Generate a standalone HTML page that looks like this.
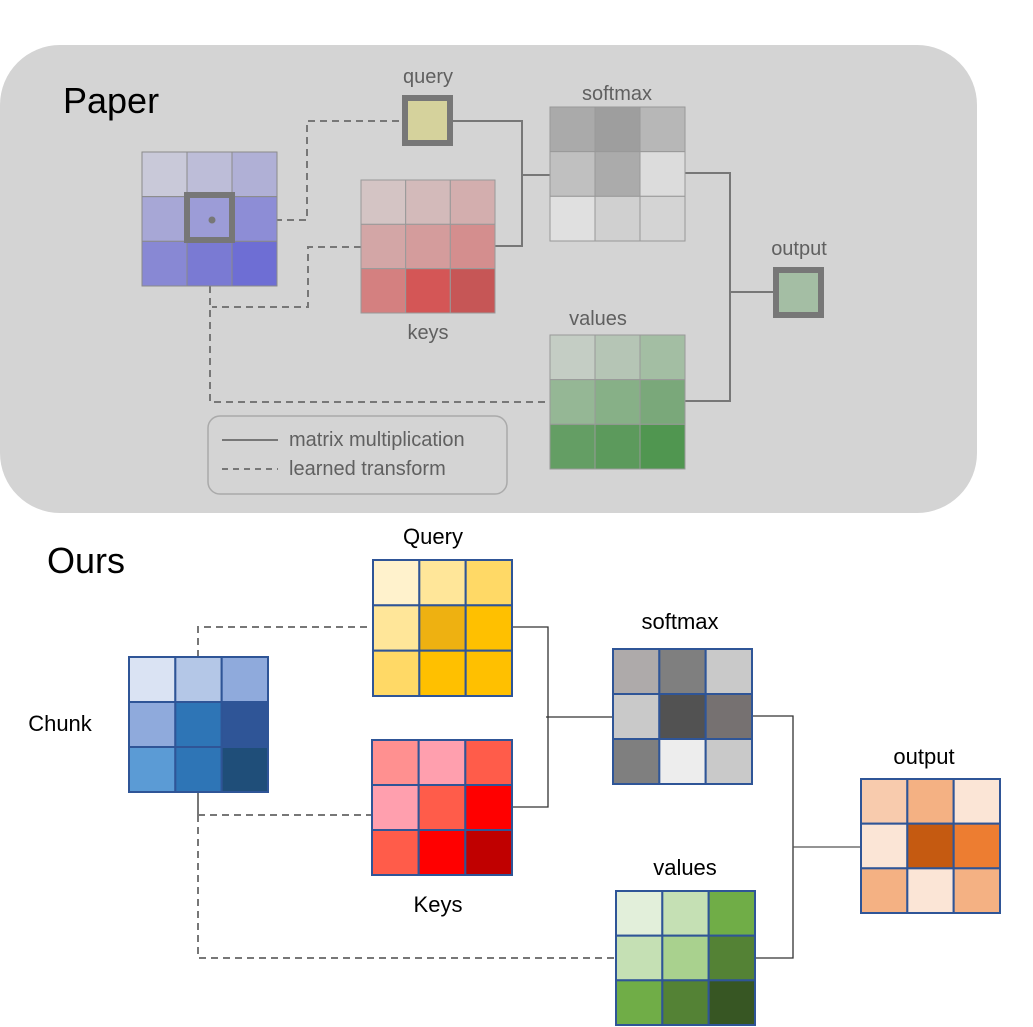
<!DOCTYPE html>
<html><head><meta charset="utf-8"><style>
html,body{margin:0;padding:0;background:#fff;}
svg{display:block;font-family:"Liberation Sans",sans-serif;}
</style></head><body>
<svg id="d" width="1033" height="1027" viewBox="0 0 1033 1027">
<rect x="0" y="45" width="977" height="468" rx="60" fill="#d4d4d4"/>
<text x="63" y="113" font-size="36" fill="#000">Paper</text>
<text x="47" y="573" font-size="36" fill="#000">Ours</text>
<g id="lines"></g>
<g id="grids"></g>
<!-- paper small boxes -->
<rect x="405" y="98" width="45" height="45" fill="#d5d29c" stroke="#777" stroke-width="6"/>
<rect x="776" y="270" width="45" height="45" fill="#a4bea4" stroke="#777" stroke-width="6"/>
<rect x="187" y="195" width="45" height="45" fill="none" stroke="#777" stroke-width="6"/>
<circle cx="212" cy="220" r="3.5" fill="#777"/>
<g fill="#606060" font-size="20" text-anchor="middle">
<text x="428" y="83">query</text>
<text x="617" y="100">softmax</text>
<text x="428" y="339">keys</text>
<text x="598" y="325">values</text>
<text x="799" y="255">output</text>
</g>
<rect x="208" y="416" width="299" height="78" rx="12" fill="none" stroke="#aaa" stroke-width="1.5"/>
<line x1="222" y1="440" x2="278" y2="440" stroke="#777" stroke-width="2"/>
<line x1="222" y1="469" x2="278" y2="469" stroke="#777" stroke-width="2" stroke-dasharray="6,5"/>
<text x="289" y="446" font-size="20" fill="#606060">matrix multiplication</text>
<text x="289" y="475" font-size="20" fill="#606060">learned transform</text>
<g fill="#000" font-size="22" text-anchor="middle">
<text x="433" y="544">Query</text>
<text x="438" y="912">Keys</text>
<text x="680" y="629">softmax</text>
<text x="685" y="875">values</text>
<text x="924" y="764">output</text>
<text x="60" y="731">Chunk</text>
</g>
</svg>
<script>
const paperInput=["#c9c9d9","#bdbdd8","#b0b0d6","#a7a7d6","#9c9cd7","#8d8dd6","#8888d4","#7a7ad3","#6e6ed4"];
const paperKeys=["#d4c4c4","#d3baba","#d3aeae","#d3a6a6","#d49c9c","#d48e8e","#d48080","#d45656","#c65656"];
const paperSoftmax=["#aaaaaa","#9e9e9e","#b7b7b7","#c0c0c0","#ababab","#dcdcdc","#e0e0e0","#d0d0d0","#d4d4d4"];
const paperValues=["#c4cdc4","#b5c5b5","#a3bea3","#95b795","#87b087","#7aa87a","#649e64","#5c9a5c","#509650"];
const oursChunk=["#dae3f3","#b4c7e7","#8faadc","#8faadc","#2e75b6","#2f5597","#5b9bd5","#2e75b6","#1f4e79"];
const oursQuery=["#fff2cc","#ffe699","#ffd966","#ffe699","#eeb111","#ffc000","#ffd966","#ffc000","#ffc000"];
const oursKeys=["#ff9090","#ff9fae","#ff5c4a","#ff9fae","#ff5c4a","#ff0000","#ff5c4a","#ff0000","#c00000"];
const oursSoftmax=["#aeaaaa","#7f7f7f","#c9c9c9","#c9c9c9","#525252","#767171","#7f7f7f","#ededed","#c9c9c9"];
const oursValues=["#e2efda","#c5e0b4","#70ad47","#c5e0b4","#a9d18e","#548235","#70ad47","#548235","#375623"];
const oursOutput=["#f8cbad","#f4b183","#fbe5d6","#fbe5d6","#c55a11","#ed7d31","#f4b183","#fbe5d6","#f4b183"];
const NS="http://www.w3.org/2000/svg";
const G=document.getElementById('grids');
function grid(name,x,y,w,h,cols,stroke,sw){
  const g=document.createElementNS(NS,'g');
  
  
  const cw=w/3,ch=h/3;
  cols.forEach((c,i)=>{
    const r=document.createElementNS(NS,'rect');
    r.setAttribute('x',x+(i%3)*cw);r.setAttribute('y',y+Math.floor(i/3)*ch);
    r.setAttribute('width',cw);r.setAttribute('height',ch);
    r.setAttribute('fill',c);r.setAttribute('stroke',stroke);r.setAttribute('stroke-width',sw);
    
    
    g.appendChild(r);
  });
  G.appendChild(g);
}
grid('paper-input-grid',142,152,135,134,paperInput,'#8a8a8a',1);
grid('paper-keys-grid',361,180,134,133,paperKeys,'#999',1);
grid('paper-softmax-grid',550,107,135,134,paperSoftmax,'#999',1);
grid('paper-values-grid',550,335,135,134,paperValues,'#999',1);
grid('ours-chunk-grid',129,657,139,135,oursChunk,'#2f5597',2);
grid('ours-query-grid',373,560,139,136,oursQuery,'#2f5597',2);
grid('ours-keys-grid',372,740,140,135,oursKeys,'#2f5597',2);
grid('ours-softmax-grid',613,649,139,135,oursSoftmax,'#2f5597',2);
grid('ours-values-grid',616,891,139,134,oursValues,'#2f5597',2);
grid('ours-output-grid',861,779,139,134,oursOutput,'#2f5597',2);
const L=document.getElementById('lines');
function pl(name,pts,col,w,dash){
  const p=document.createElementNS(NS,'polyline');
  p.setAttribute('points',pts);p.setAttribute('fill','none');
  p.setAttribute('stroke',col);p.setAttribute('stroke-width',w);
  if(dash)p.setAttribute('stroke-dasharray',dash);
  
  
  L.appendChild(p);
}
pl('paper-qk-line','453,121 522,121 522,246 495,246','#777',2);
pl('paper-to-softmax','522,175 550,175','#777',2);
pl('paper-sv-line','685,173 730,173 730,401 685,401','#777',2);
pl('paper-to-output','730,292 773,292','#777',2);
pl('paper-query-dash','215,220 307,220 307,121 402,121','#777',2,'7,5');
pl('paper-keys-dash','361,247 308,247 308,307 212,307','#777',2,'7,5');
pl('paper-values-dash','210,286 210,402 550,402','#777',2,'7,5');
pl('ours-qk-line','512,627 548,627 548,807 512,807','#333',1.3);
pl('ours-to-softmax','546,717 613,717','#333',1.3);
pl('ours-sv-line','752,716 793,716 793,958 755,958','#333',1.3);
pl('ours-to-output','793,847 861,847','#555',1.3);
pl('ours-query-dash','198,657 198,627 372,627','#777',2,'7,5');
pl('ours-chunk-stub','198,786 198,815','#777',2);
pl('ours-keys-dash','198,815 371,815','#777',2,'7,5');
pl('ours-values-dash','198,815 198,958 614,958','#777',2,'7,5');
</script>
</body></html>
